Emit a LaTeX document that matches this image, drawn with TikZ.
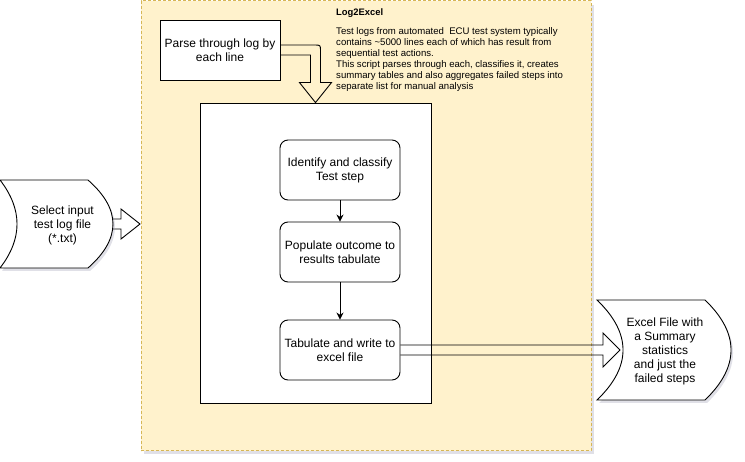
\documentclass[tikz,border=0pt]{standalone}
\usepackage{fontspec}
\setmainfont{Liberation Sans}
\usetikzlibrary{arrows.meta,calc}
\definecolor{contfill}{HTML}{FFF2CC}
\definecolor{contline}{HTML}{D6B656}
\definecolor{shadowc}{HTML}{9A9AB0}
\tikzset{
  x=1pt, y=-1pt,
  box/.style={draw=black, fill=white, line width=0.9pt, minimum width=120pt, minimum height=60pt,
    inner sep=0pt, align=center, font=\fontsize{12}{14}\selectfont},
  rbox/.style={box, rounded corners=8pt},
  flow/.style={draw=black, line width=0.9pt, -{Stealth[length=7pt,width=7pt]}},
  fat/.style={draw=black, line width=0.9pt, line join=miter},
  shade/.style={fill=shadowc, opacity=0.3, draw=none},
  lbl/.style={inner sep=0pt, align=center, font=\fontsize{12}{14}\selectfont}
}
\begin{document}
\begin{tikzpicture}
\useasboundingbox (0,0) rectangle (745,462);
% container with shadow
\fill[shade] (144,5) rectangle (594,454);
\node[draw=contline, fill=contfill, line width=1pt, dash pattern=on 3pt off 2pt,
  minimum width=450pt, minimum height=450pt, inner sep=0pt] (C) at (366,226) {};
\node[anchor=west, inner sep=0pt, font=\fontsize{9.4}{11}\selectfont\bfseries] (title) at (336,13) {Log2Excel};
\node[anchor=north west, inner sep=0pt, align=left, font=\fontsize{9.6}{11.1}\selectfont] (desc) at (336,27)
  {Test logs from automated\ \ ECU test system typically\\
   contains \textasciitilde5000 lines each of which has result from\\
   sequential test actions.\\
   This script parses through each, classifies it, creates\\
   summary tables and also aggregates failed steps into\\
   separate list for manual analysis};
% inner white box
\node[draw=black, fill=white, line width=0.9pt, minimum width=231pt, minimum height=300pt, inner sep=0pt] (W) at (315.5,253) {};
% parse box
\node[box] (P) at (220,50) {Parse through log by\\each line};
% steps
\node[rbox] (S1) at (340,170) {Identify and classify\\Test step};
\node[rbox] (S2) at (340,252) {Populate outcome to\\results tabulate};
\node[rbox] (S3) at (340,350) {Tabulate and write to\\excel file};
\draw[flow] (S1) -- (S2);
\draw[flow] (S2) -- (S3);
% parse arrow (outline)
\coordinate (pt) at (W.north);
\draw[fat] ($(P.east)+(0,-5)$) -- ($(pt|-P.east)+(-1,-5)$)
  .. controls ($(pt|-P.east)+(5,-5)$) .. ($(pt|-P.east)+(5,1)$)
  -- ($(pt)+(5,-20)$) -- ($(pt)+(16,-20)$) -- (pt) -- ($(pt)+(-16,-20)$)
  -- ($(pt)+(-5,-20)$) -- ($(pt|-P.east)+(-5,5)$) -- ($(P.east)+(0,5)$);
% left shape
\coordinate (Lt) at (140,224);
\draw[fat, fill=white] (105,219) -- ($(Lt)+(-19,-5)$) -- ($(Lt)+(-19,-15)$) -- (Lt)
  -- ($(Lt)+(-19,15)$) -- ($(Lt)+(-19,5)$) -- (105,229) -- cycle;
\begin{scope}[shift={(2,3)}]
\fill[shade] (0,180) -- (88,180) .. controls (121.3,209.3) and (121.3,238.7) .. (88,268)
  -- (0,268) .. controls (22.7,238.7) and (22.7,209.3) .. (0,180) -- cycle;
\end{scope}
\draw[fat, fill=white] (0,180) -- (88,180) .. controls (121.3,209.3) and (121.3,238.7) .. (88,268)
  -- (0,268) .. controls (22.7,238.7) and (22.7,209.3) .. (0,180) -- cycle;
\node[lbl] (L) at (62.5,225) {Select input\\test log file\\(*.txt)};
% right shape
\begin{scope}[shift={(2,3)}]
\fill[shade] (597,300) -- (705,300) .. controls (739.7,333.3) and (739.7,366.7) .. (705,400)
  -- (597,400) .. controls (631.7,366.7) and (631.7,333.3) .. (597,300) -- cycle;
\end{scope}
\draw[fat, fill=white] (597,300) -- (705,300) .. controls (739.7,333.3) and (739.7,366.7) .. (705,400)
  -- (597,400) .. controls (631.7,366.7) and (631.7,333.3) .. (597,300) -- cycle;
\node[lbl] (R) at (665,351) {Excel File with\\a Summary\\statistics\\ and just the\\failed steps};
% output arrow (outline)
\coordinate (Rt) at (620,350);
\draw[fat] ($(S3.east)+(0,-5)$) -- ($(Rt)+(-17,-5)$) -- ($(Rt)+(-17,-17)$) -- (Rt)
  -- ($(Rt)+(-17,17)$) -- ($(Rt)+(-17,5)$) -- ($(S3.east)+(0,5)$);
\end{tikzpicture}
\end{document}
